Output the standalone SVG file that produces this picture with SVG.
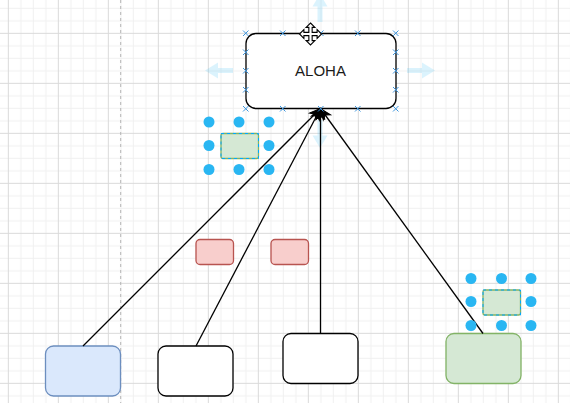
<svg xmlns="http://www.w3.org/2000/svg" width="570" height="403" viewBox="0 0 570 403">
<style>
.node{stroke-width:1.3}
.plain{fill:#ffffff;stroke:#000000}
.blue{fill:#dae8fc;stroke:#6c8ebf}
.green{fill:#d5e8d4;stroke:#82b366}
.red{fill:#f8cecc;stroke:#b85450}
.edge{fill:none;stroke:#000000;stroke-width:1.3}
.hover{fill:#29b6f2;fill-opacity:0.17}
.handle{fill:#29b6f2}
.cp{stroke:#3d95dd;stroke-width:1;fill:none}
.sel{fill:none;stroke:#00a8ff;stroke-width:1;stroke-dasharray:3 3}
.label{font-family:"Liberation Sans",Arial,sans-serif;font-size:15px;fill:#1a1a1a}
</style>
<defs>
<pattern id="grid" x="7.833" y="32.833" width="50" height="50" patternUnits="userSpaceOnUse">
<path d="M13 0V50M25.5 0V50M38 0V50M0 13H50M0 25.5H50M0 38H50" stroke="#f0f0f0" stroke-width="1"/>
<path d="M0.5 0V50M0 0.5H50" stroke="#dadada" stroke-width="1"/>
</pattern>
<marker id="arr" markerUnits="userSpaceOnUse" orient="auto" overflow="visible" markerWidth="1" markerHeight="1" refX="0" refY="0">
<path d="M0,0L-11,-4.5L-8,0L-11,4.5Z" fill="#000000" stroke="#000000" stroke-width="1"/>
</marker>
</defs>
<rect x="0" y="0" width="570" height="403" fill="#ffffff"/>
<rect x="0" y="0" width="570" height="403" fill="url(#grid)"/>
<line x1="120.7" y1="0" x2="120.7" y2="403" stroke="#b5b5b5" stroke-width="1" stroke-dasharray="3 3"/>

<g id="hover-arrows">
<path class="hover" d="M435,70.5L422,62.5V68H407V73H422V78.5Z"/>
<path class="hover" d="M205,70.5L218,62.5V68H233V73H218V78.5Z"/>
<path class="hover" d="M320,-6L312.5,6.5H317.5V22H322.5V6.5H327.5Z"/>
<path class="hover" d="M320,148L312.5,135.5H317.5V120H322.5V135.5H327.5Z"/>
</g>

<g id="node-aloha">
<rect class="node plain" x="246" y="33.5" width="150" height="75" rx="10" ry="10"/>
<text class="label" x="320.5" y="76" text-anchor="middle">ALOHA</text>
</g>
<g id="node-blue">
<rect class="node blue" x="45.5" y="346" width="75" height="50" rx="8" ry="8"/>
</g>
<g id="node-white-1">
<rect class="node plain" x="158" y="346" width="75" height="50" rx="8" ry="8"/>
</g>
<g id="node-white-2">
<rect class="node plain" x="283" y="333.5" width="75" height="50" rx="8" ry="8"/>
</g>
<g id="node-green">
<rect class="node green" x="446" y="333.5" width="75" height="50" rx="8" ry="8"/>
</g>
<g id="node-red-1">
<rect class="node red" x="196" y="239.5" width="37.5" height="25" rx="4" ry="4"/>
</g>
<g id="node-red-2">
<rect class="node red" x="271" y="239.5" width="37.5" height="25" rx="4" ry="4"/>
</g>
<g id="node-small-green-1">
<rect class="node green" x="221" y="133.5" width="37.5" height="25" rx="2" ry="2"/>
<rect class="sel" x="221" y="133.5" width="37.5" height="25"/>
</g>
<g id="node-small-green-2">
<rect class="node green" x="483" y="290" width="37.5" height="25" rx="2" ry="2"/>
<rect class="sel" x="483" y="290" width="37.5" height="25"/>
</g>

<g id="connectors">
<line class="edge" x1="83" y1="346" x2="320.5" y2="108.5" marker-end="url(#arr)"/>
<line class="edge" x1="196" y1="346" x2="320.5" y2="108.5" marker-end="url(#arr)"/>
<line class="edge" x1="320.5" y1="333.5" x2="320.5" y2="108.5" marker-end="url(#arr)"/>
<line class="edge" x1="483" y1="333.5" x2="320.5" y2="108.5" marker-end="url(#arr)"/>
</g>

<g id="connection-points">
<path class="cp" d="M243,30.5l5.5,5.5m0,-5.5l-5.5,5.5M280,30.5l5.5,5.5m0,-5.5l-5.5,5.5M318,30.5l5.5,5.5m0,-5.5l-5.5,5.5M355,30.5l5.5,5.5m0,-5.5l-5.5,5.5M393,30.5l5.5,5.5m0,-5.5l-5.5,5.5"/>
<path class="cp" d="M243,106l5.5,5.5m0,-5.5l-5.5,5.5M280,106l5.5,5.5m0,-5.5l-5.5,5.5M318,106l5.5,5.5m0,-5.5l-5.5,5.5M355,106l5.5,5.5m0,-5.5l-5.5,5.5M393,106l5.5,5.5m0,-5.5l-5.5,5.5"/>
<path class="cp" d="M243,49.5l5.5,5.5m0,-5.5l-5.5,5.5M243,68l5.5,5.5m0,-5.5l-5.5,5.5M243,87l5.5,5.5m0,-5.5l-5.5,5.5"/>
<path class="cp" d="M393,49.5l5.5,5.5m0,-5.5l-5.5,5.5M393,68l5.5,5.5m0,-5.5l-5.5,5.5M393,87l5.5,5.5m0,-5.5l-5.5,5.5"/>
</g>

<g id="handles-1">
<circle class="handle" cx="209" cy="122" r="5.5"/>
<circle class="handle" cx="239" cy="122" r="5.5"/>
<circle class="handle" cx="269" cy="122" r="5.5"/>
<circle class="handle" cx="209" cy="145.5" r="5.5"/>
<circle class="handle" cx="269" cy="145.5" r="5.5"/>
<circle class="handle" cx="209" cy="169.5" r="5.5"/>
<circle class="handle" cx="239" cy="169.5" r="5.5"/>
<circle class="handle" cx="269" cy="169.5" r="5.5"/>
</g>
<g id="handles-2">
<circle class="handle" cx="471" cy="278.5" r="5.5"/>
<circle class="handle" cx="501.5" cy="278.5" r="5.5"/>
<circle class="handle" cx="531" cy="278.5" r="5.5"/>
<circle class="handle" cx="471" cy="301.5" r="5.5"/>
<circle class="handle" cx="531" cy="301.5" r="5.5"/>
<circle class="handle" cx="471" cy="325.5" r="5.5"/>
<circle class="handle" cx="501.5" cy="325.5" r="5.5"/>
<circle class="handle" cx="531" cy="325.5" r="5.5"/>
</g>

<g id="cursor" transform="translate(310.5,34) scale(1.1)">
<path d="M0,-10L4,-6H1.5V-1.5H6V-4L10,0L6,4V1.5H1.5V6H4L0,10L-4,6H-1.5V1.5H-6V4L-10,0L-6,-4V-1.5H-1.5V-6H-4Z" fill="#ffffff" stroke="#000000" stroke-width="1" stroke-linejoin="miter"/>
</g>
</svg>
